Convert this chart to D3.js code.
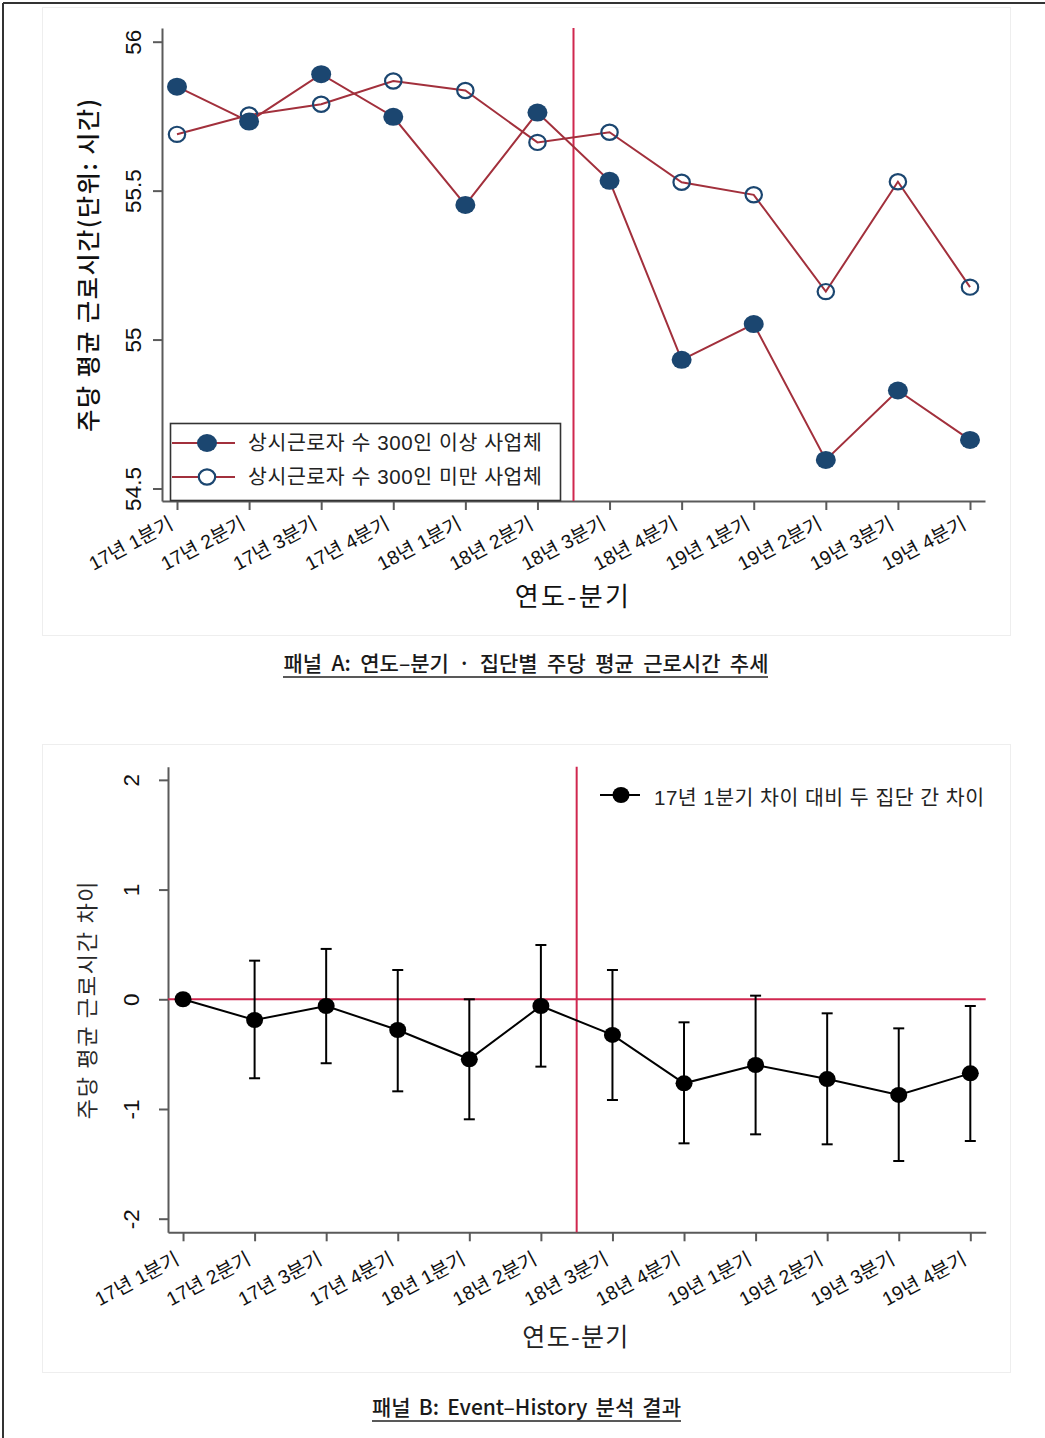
<!DOCTYPE html>
<html><head><meta charset="utf-8">
<script src="https://cdn.jsdelivr.net/npm/d3@7"></script>
<style>
html,body{margin:0;padding:0;background:#fff;}
svg{display:block;}
</style></head><body>
<svg id="fig" width="1045" height="1438"></svg>
<script>
// Quarter categories shared by both panels
const quarters = ["17년 1분기","17년 2분기","17년 3분기","17년 4분기","18년 1분기","18년 2분기",
                  "18년 3분기","18년 4분기","19년 1분기","19년 2분기","19년 3분기","19년 4분기"];

// Panel A: weekly average working hours by group
const largeFirms = [55.849, 55.732, 55.891, 55.748, 55.452, 55.762, 55.533, 54.932, 55.052, 54.596, 54.829, 54.663];
const smallFirms = [55.689, 55.754, 55.790, 55.868, 55.836, 55.662, 55.696, 55.528, 55.486, 55.161, 55.530, 55.176];
const seriesLabels = ["상시근로자 수 300인 이상 사업체", "상시근로자 수 300인 미만 사업체"];
const yTicksA = [54.5, 55, 55.5, 56];

// Panel B: event-history estimates with confidence intervals
const gapEstimate = [0, -0.189, -0.061, -0.280, -0.547, -0.061, -0.325, -0.766, -0.599, -0.727, -0.872, -0.675];
const gapUpper    = [null, 0.352, 0.459, 0.267, 0.000, 0.495, 0.267, -0.210, 0.033, -0.128, -0.265, -0.061];
const gapLower    = [null, -0.720, -0.583, -0.839, -1.094, -0.614, -0.918, -1.313, -1.231, -1.322, -1.474, -1.292];
const gapLabel = "17년 1분기 차이 대비 두 집단 간 차이";
const yTicksB = [-2, -1, 0, 1, 2];

// Policy change falls between 18년 2분기 and 18년 3분기
const policyBreak = 5.5;

const FONT = '"Liberation Sans","Noto Sans CJK KR",sans-serif';
const KFONT = '"Noto Sans CJK KR","Liberation Sans",sans-serif';
const LINE_RED = "#a2303c", REF_RED = "#d0274f", NAVY = "#1b4670", AXIS = "#5a5a5a";

const svg = d3.select("#fig");

// stretch a text element to a target width via letter/word spacing
function fitWidth(t, target, mode) {
  const node = t.node();
  const natural = node.getComputedTextLength();
  const s = node.textContent;
  if (mode === "word") {
    const n = (s.match(/ /g) || []).length;
    if (n) t.attr("word-spacing", ((target - natural) / n).toFixed(2));
  } else {
    t.attr("letter-spacing", ((target - natural) / Math.max(1, s.length - 1)).toFixed(2));
  }
}

// outer frame
svg.append("line").attr("x1", 3).attr("x2", 1045).attr("y1", 3).attr("y2", 3).attr("stroke", "#333").attr("stroke-width", 2);
svg.append("line").attr("x1", 3).attr("x2", 3).attr("y1", 3).attr("y2", 1438).attr("stroke", "#333").attr("stroke-width", 2);

// plot region backgrounds
[7, 744].forEach(y0 => {
  svg.append("rect").attr("x", 42.5).attr("y", y0 + 0.5).attr("width", 968).attr("height", 628)
    .attr("fill", "#fff").attr("stroke", "#eeeeee");
});

function styleAxis(g) {
  g.attr("font-family", FONT).attr("font-size", null);
  g.select(".domain").attr("stroke", AXIS).attr("stroke-width", 2);
  g.selectAll(".tick line").attr("stroke", AXIS).attr("stroke-width", 2);
  g.selectAll(".tick text").attr("fill", "#111");
}

function drawAxes(x, y, yTicks, xLabelOffset, yLabelX) {
  const [x0] = x.range();
  const [yb] = y.range();
  const gx = svg.append("g").attr("transform", `translate(0,${yb})`)
    .call(d3.axisBottom(x).tickValues(d3.range(quarters.length)).tickSize(9).tickSizeOuter(0)
      .tickFormat(i => quarters[i]));
  styleAxis(gx);
  gx.selectAll(".tick text")
    .attr("x", 0).attr("y", 0).attr("dy", 0)
    .attr("transform", `translate(${xLabelOffset[0]},${xLabelOffset[1]}) rotate(-28)`)
    .attr("text-anchor", "end").attr("font-size", 19.5);

  const gy = svg.append("g").attr("transform", `translate(${x0},0)`)
    .call(d3.axisLeft(y).tickValues(yTicks).tickSize(9).tickSizeOuter(0).tickFormat(d => String(d)));
  styleAxis(gy);
  gy.selectAll(".tick text")
    .attr("x", 0).attr("y", 0).attr("dy", "0.36em")
    .attr("transform", `translate(${yLabelX},0) rotate(-90)`)
    .attr("text-anchor", "middle").attr("font-size", 22.5);
}

// ---------------- Panel A ----------------
const xA = d3.scaleLinear().domain([-0.208, 11.208]).range([162, 985]);
const yA = d3.scaleLinear().domain([54.458, 56.046]).range([501, 28]);

drawAxes(xA, yA, yTicksA, [-3, 27], -29);

svg.append("line").attr("x1", xA(policyBreak)).attr("x2", xA(policyBreak))
  .attr("y1", yA.range()[1]).attr("y2", yA.range()[0]).attr("stroke", REF_RED).attr("stroke-width", 2);

const lineA = d3.line().x((d, i) => xA(i)).y(d => yA(d));

// hollow series first, filled series on top
svg.append("path").datum(smallFirms).attr("d", lineA).attr("fill", "none").attr("stroke", LINE_RED).attr("stroke-width", 2);
svg.append("g").selectAll("ellipse").data(smallFirms).join("ellipse")
  .attr("cx", (d, i) => xA(i)).attr("cy", d => yA(d)).attr("rx", 8.2).attr("ry", 7.6)
  .attr("fill", "none").attr("stroke", NAVY).attr("stroke-width", 2.2);

svg.append("path").datum(largeFirms).attr("d", lineA).attr("fill", "none").attr("stroke", LINE_RED).attr("stroke-width", 2);
svg.append("g").selectAll("ellipse").data(largeFirms).join("ellipse")
  .attr("cx", (d, i) => xA(i)).attr("cy", d => yA(d)).attr("rx", 10).attr("ry", 9)
  .attr("fill", NAVY);

// axis titles
const ytA = svg.append("text").attr("transform", `translate(88,${(yA.range()[0] + yA.range()[1]) / 2}) rotate(-90)`)
  .attr("text-anchor", "middle").attr("dy", "0.36em").attr("font-family", KFONT).attr("font-size", 24)
  .attr("font-weight", 500).attr("fill", "#111").text("주당 평균 근로시간(단위: 시간)");
fitWidth(ytA, 333);
const xtA = svg.append("text").attr("x", 573).attr("y", 597).attr("dy", "0.36em").attr("text-anchor", "middle")
  .attr("font-family", KFONT).attr("font-size", 26).attr("fill", "#111").text("연도-분기");
fitWidth(xtA, 114);

// legend
const legA = svg.append("g");
legA.append("rect").attr("x", 170.5).attr("y", 423.5).attr("width", 390).attr("height", 77)
  .attr("fill", "#fff").attr("stroke", "#333").attr("stroke-width", 1.6);
[443, 477].forEach((ly, k) => {
  legA.append("line").attr("x1", 172).attr("x2", 235).attr("y1", ly).attr("y2", ly)
    .attr("stroke", LINE_RED).attr("stroke-width", 2);
  const m = legA.append("ellipse").attr("cx", 207).attr("cy", ly);
  if (k === 0) m.attr("rx", 10).attr("ry", 9).attr("fill", NAVY);
  else m.attr("rx", 8.2).attr("ry", 7.6).attr("fill", "#fff").attr("stroke", NAVY).attr("stroke-width", 2.2);
  const t = legA.append("text").attr("x", 248).attr("y", ly).attr("dy", "0.36em")
    .attr("font-family", FONT).attr("font-size", 20.5).attr("fill", "#222").text(seriesLabels[k]);
  fitWidth(t, 294);
});

// caption A
const capA = svg.append("text").attr("x", 526).attr("y", 671).attr("text-anchor", "middle")
  .attr("font-family", KFONT).attr("font-size", 21).attr("font-weight", 500).attr("fill", "#1a1a1a")
  .text("패널 A: 연도–분기 · 집단별 주당 평균 근로시간 추세");
fitWidth(capA, 485, "word");
svg.append("line").attr("x1", 283).attr("x2", 768).attr("y1", 677).attr("y2", 677).attr("stroke", "#222").attr("stroke-width", 1.6);

// ---------------- Panel B ----------------
const xB = d3.scaleLinear().domain([-0.21, 11.215]).range([168, 985.7]);
const yB = d3.scaleLinear().domain([-2.124, 2.12]).range([1232.3, 766.7]);

drawAxes(xB, yB, yTicksB, [-3, 31], -37);

// reference lines
svg.append("line").attr("x1", xB.range()[0]).attr("x2", xB.range()[1]).attr("y1", yB(0)).attr("y2", yB(0))
  .attr("stroke", REF_RED).attr("stroke-width", 2);
svg.append("line").attr("x1", xB(policyBreak)).attr("x2", xB(policyBreak))
  .attr("y1", yB.range()[1]).attr("y2", yB.range()[0]).attr("stroke", REF_RED).attr("stroke-width", 2);

// confidence intervals
const ci = quarters.map((q, i) => ({ i, lo: gapLower[i], hi: gapUpper[i] })).filter(d => d.lo !== null);
const gci = svg.append("g").attr("stroke", "#000").attr("stroke-width", 2);
gci.selectAll(".v").data(ci).join("line").attr("x1", d => xB(d.i)).attr("x2", d => xB(d.i))
  .attr("y1", d => yB(d.hi)).attr("y2", d => yB(d.lo));
gci.selectAll(".hi").data(ci).join("line").attr("x1", d => xB(d.i) - 5.5).attr("x2", d => xB(d.i) + 5.5)
  .attr("y1", d => yB(d.hi)).attr("y2", d => yB(d.hi));
gci.selectAll(".lo").data(ci).join("line").attr("x1", d => xB(d.i) - 5.5).attr("x2", d => xB(d.i) + 5.5)
  .attr("y1", d => yB(d.lo)).attr("y2", d => yB(d.lo));

const lineB = d3.line().x((d, i) => xB(i)).y(d => yB(d));
svg.append("path").datum(gapEstimate).attr("d", lineB).attr("fill", "none").attr("stroke", "#000").attr("stroke-width", 2);
svg.append("g").selectAll("ellipse").data(gapEstimate).join("ellipse")
  .attr("cx", (d, i) => xB(i)).attr("cy", d => yB(d)).attr("rx", 8.5).attr("ry", 8).attr("fill", "#000");

const ytB = svg.append("text").attr("transform", `translate(87,${(yB.range()[0] + yB.range()[1]) / 2}) rotate(-90)`)
  .attr("text-anchor", "middle").attr("dy", "0.36em").attr("font-family", KFONT).attr("font-size", 22)
  .attr("fill", "#2a2a2a").text("주당 평균 근로시간 차이");
fitWidth(ytB, 238);
const xtB = svg.append("text").attr("x", 576).attr("y", 1337).attr("dy", "0.36em").attr("text-anchor", "middle")
  .attr("font-family", KFONT).attr("font-size", 25).attr("fill", "#222").text("연도-분기");
fitWidth(xtB, 106);

// legend B
svg.append("line").attr("x1", 600).attr("x2", 640).attr("y1", 795).attr("y2", 795).attr("stroke", "#000").attr("stroke-width", 2);
svg.append("ellipse").attr("cx", 621).attr("cy", 795).attr("rx", 8.5).attr("ry", 8).attr("fill", "#000");
const lgB = svg.append("text").attr("x", 654).attr("y", 798).attr("dy", "0.36em")
  .attr("font-family", FONT).attr("font-size", 20.5).attr("fill", "#222").text(gapLabel);
fitWidth(lgB, 330);

// caption B
const capB = svg.append("text").attr("x", 526.5).attr("y", 1415).attr("text-anchor", "middle")
  .attr("font-family", KFONT).attr("font-size", 21).attr("font-weight", 500).attr("fill", "#1a1a1a")
  .text("패널 B: Event–History 분석 결과");
fitWidth(capB, 309, "word");
svg.append("line").attr("x1", 372).attr("x2", 681).attr("y1", 1421).attr("y2", 1421).attr("stroke", "#222").attr("stroke-width", 1.6);
</script>
</body></html>
